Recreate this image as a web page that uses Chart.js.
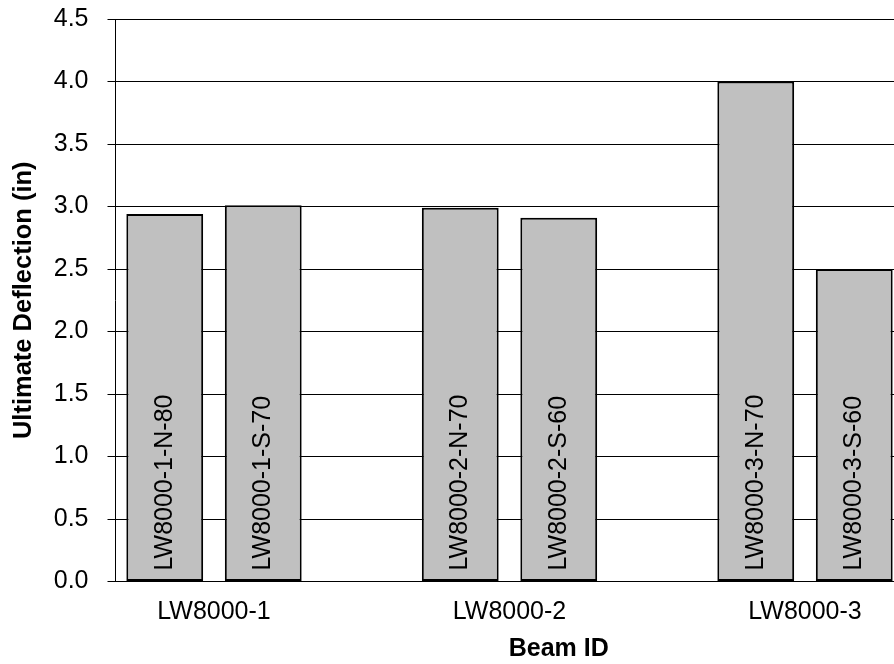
<!DOCTYPE html>
<html>
<head>
<meta charset="utf-8">
<title>Ultimate Deflection by Beam</title>
<script src="https://cdn.jsdelivr.net/npm/chart.js@4"></script>
<style>
  html, body { margin: 0; padding: 0; background: #fff; overflow: hidden; }
  #wrap { position: absolute; left: 0; top: 0; }
</style>
</head>
<body>
<div id="wrap"><canvas id="chart" width="1002" height="664"></canvas></div>
<script>
// Beam groups and the two specimens tested in each
const groups = ['LW8000-1', 'LW8000-2', 'LW8000-3'];
const beamIds = [
  'LW8000-1-N-80', 'LW8000-1-S-70',
  'LW8000-2-N-70', 'LW8000-2-S-60',
  'LW8000-3-N-70', 'LW8000-3-S-60'
];
// Ultimate deflection, inches
const deflections = [2.94, 3.01, 2.99, 2.91, 4.00, 2.50];
const yTicks = [0, 0.5, 1.0, 1.5, 2.0, 2.5, 3.0, 3.5, 4.0, 4.5];

// Each group takes three slots: two beams and an empty spacer slot
const slotLabels = [];
const slotValues = [];
groups.forEach((g, gi) => {
  for (let k = 0; k < 2; k++) {
    slotLabels.push(beamIds[gi * 2 + k]);
    slotValues.push(deflections[gi * 2 + k]);
  }
  slotLabels.push('');
  slotValues.push(null);
});
// Group label positions on the 0..slots scale (between the two beams)
const groupPositions = groups.map((g, gi) => gi * 3 + 1);

const FONT = '"Liberation Sans", Arial, sans-serif';

// Vertical beam names drawn inside each bar
const barNames = {
  id: 'barNames',
  afterDatasetsDraw(chart) {
    const ctx = chart.ctx;
    const meta = chart.getDatasetMeta(0);
    ctx.save();
    ctx.font = '25px ' + FONT;
    ctx.fillStyle = '#000';
    ctx.textAlign = 'left';
    ctx.textBaseline = 'middle';
    meta.data.forEach((bar, i) => {
      if (slotValues[i] == null) return;
      const base = chart.scales.y.getPixelForValue(0);
      ctx.save();
      ctx.translate(bar.x, base - 11);
      ctx.rotate(-Math.PI / 2);
      ctx.fillText(slotLabels[i], 0, 0);
      ctx.restore();
    });
    ctx.restore();
  }
};

new Chart(document.getElementById('chart'), {
  type: 'bar',
  data: {
    labels: slotLabels,
    datasets: [{
      data: slotValues,
      backgroundColor: '#c0c0c0',
      borderColor: '#000',
      borderWidth: 2,
      borderSkipped: false,
      categoryPercentage: 1.0,
      barPercentage: 0.78
    }]
  },
  options: {
    responsive: false,
    animation: false,
    events: [],
    layout: { padding: 0 },
    plugins: {
      legend: { display: false },
      tooltip: { enabled: false }
    },
    scales: {
      x: {
        type: 'category',
        display: false
      },
      x2: {
        type: 'linear',
        position: 'bottom',
        offset: false,
        min: 0,
        max: slotLabels.length,
        grid: { display: false, drawTicks: false },
        border: { display: false },
        afterBuildTicks(scale) {
          scale.ticks = groupPositions.map(v => ({ value: v }));
        },
        afterFit(scale) { scale.height = 82.5; },
        ticks: {
          autoSkip: false,
          maxRotation: 0,
          padding: 16,
          color: '#000',
          font: { family: FONT, size: 25 },
          callback(v) {
            const idx = groupPositions.indexOf(v);
            return idx >= 0 ? groups[idx] : '';
          }
        },
        title: {
          display: true,
          text: 'Beam ID',
          color: '#000',
          font: { family: FONT, size: 25, weight: 'bold' },
          padding: { top: 0, bottom: 0 }
        }
      },
      y: {
        min: 0,
        max: 4.5,
        afterBuildTicks(scale) {
          scale.ticks = yTicks.map(v => ({ value: v }));
        },
        afterFit(scale) {
          scale.width = 115.5;
          scale.paddingTop = 19;
          scale.paddingBottom = 15;
        },
        grid: {
          color: '#000',
          lineWidth: 1,
          drawTicks: true,
          tickLength: 8,
          tickColor: '#000'
        },
        border: { display: true, color: '#000', width: 1 },
        ticks: {
          padding: 19,
          color: '#000',
          font: { family: FONT, size: 25 },
          callback(v) { return Number(v).toFixed(1); }
        },
        title: {
          display: true,
          text: 'Ultimate Deflection (in)',
          color: '#000',
          font: { family: FONT, size: 25.5, weight: 'bold' },
          padding: { top: 9, bottom: 0 }
        }
      }
    }
  },
  plugins: [barNames]
});
</script>
</body>
</html>
